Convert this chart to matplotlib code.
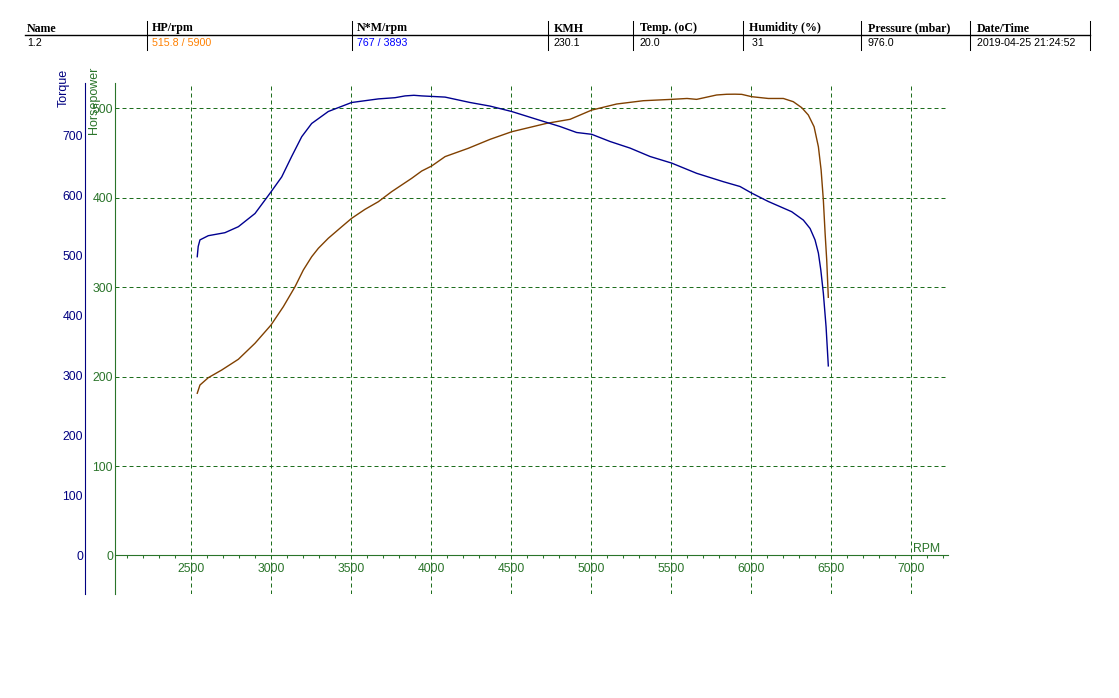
import matplotlib
matplotlib.use('Agg')
import matplotlib.pyplot as plt
from matplotlib.ticker import MultipleLocator
from matplotlib.lines import Line2D

# dyno run readings
torque_rpm = [2539, 2545, 2556, 2608, 2712, 2796, 2900, 3000, 3067, 3129, 3192, 3254,
              3358, 3504, 3671, 3775, 3838, 3893, 3942, 4088, 4244, 4369, 4504, 4660,
              4806, 4910, 5004, 5119, 5244, 5369, 5504, 5660, 5827, 5931, 6004, 6108,
              6254, 6327, 6369, 6400, 6421, 6436, 6452, 6469, 6483]
torque_nm = [498, 515, 526, 533, 538, 548, 570, 606, 631, 665, 698, 720,
             740, 755, 761, 763, 766, 767, 766, 764, 755, 749, 740, 727,
             715, 705, 702, 690, 679, 665, 654, 637, 623, 615, 604, 590,
             573, 559, 545, 526, 504, 476, 437, 381, 316]

hp_rpm = [2539, 2556, 2608, 2692, 2796, 2900, 3000, 3077, 3150, 3202, 3254, 3296,
          3358, 3442, 3504, 3587, 3671, 3754, 3879, 3942, 4004, 4088, 4233, 4369,
          4504, 4723, 4869, 5004, 5160, 5327, 5504, 5600, 5660, 5785, 5848, 5900,
          5942, 6004, 6108, 6202, 6264, 6317, 6358, 6394, 6421, 6438, 6452, 6463,
          6473, 6483]
hp_val = [181.4, 190.6, 198.8, 207.4, 219.4, 237.3, 257.7, 278.2, 300.5, 319.2, 334.0, 343.5,
          354.7, 367.6, 377.0, 387.0, 395.6, 406.8, 421.7, 429.9, 435.5, 446.0, 455.3, 465.3,
          473.8, 483.2, 487.7, 498.0, 504.8, 508.5, 510.0, 511.0, 510.0, 514.9, 515.7, 515.8,
          515.6, 513.0, 511.0, 511.0, 507.4, 500.7, 492.5, 479.4, 457.0, 431.0, 397.4, 360.0,
          330.4, 288.7]

headers = ["Name", "HP/rpm", "N*M/rpm", "KMH", "Temp. (oC)", "Humidity (%)",
           "Pressure (mbar)", "Date/Time"]
values = ["1.2", "515.8 / 5900", "767 / 3893", "230.1", "20.0", " 31", "976.0",
          "2019-04-25 21:24:52"]
value_colors = ["black", "#FF8000", "#0000FF", "black", "black", "black", "black", "black"]
col_x = [27, 152, 357, 554, 640, 749, 868, 977]
sep_x = [147, 352, 548, 633, 743, 861, 970, 1090]

W, H = 1119, 698
GREEN = '#2a742a'
GRID = '#1e6e1e'
NAVY = '#000080'

fig = plt.figure(figsize=(W / 100, H / 100), dpi=100)


def fx(x):
    return x / W


def fy(y):
    return 1 - y / H


# header table
for x, h, v, c in zip(col_x, headers, values, value_colors):
    fig.text(fx(x), fy(28.5), h, family='Liberation Serif', weight='bold', size=8.6,
             ha='left', va='center')
    fig.text(fx(x), fy(43.5), v, family='Liberation Sans', size=7.7, color=c,
             ha='left', va='center')
fig.add_artist(Line2D([fx(25), fx(1090)], [fy(35), fy(35)], color='black', lw=1.0,
                      transform=fig.transFigure))
for x in sep_x:
    fig.add_artist(Line2D([fx(x), fx(x)], [fy(21), fy(50)], color='black', lw=0.75,
                          transform=fig.transFigure))

# plot area
ax = fig.add_axes([fx(115), fy(594), (948 - 115) / W, (594 - 83) / H])
ax.set_xlim(2025, 7231)
ax.set_ylim(-43.05, 528.3)
ax2 = ax.twinx()
ax2.set_ylim(-64.2, 787.5)

ax.plot(hp_rpm, hp_val, color='#804000', lw=1.0)
ax2.plot(torque_rpm, torque_nm, color='#000090', lw=1.0)

for s in ['top', 'right']:
    ax.spines[s].set_visible(False)
ax.spines['left'].set_color(GREEN)
ax.spines['bottom'].set_position(('data', 0))
ax.spines['bottom'].set_color(GREEN)

for s in ['top', 'right', 'bottom']:
    ax2.spines[s].set_visible(False)
ax2.spines['left'].set_visible(True)
ax2.spines['left'].set_position(('outward', 21.6))
ax2.spines['left'].set_color(NAVY)
ax2.yaxis.set_ticks_position('left')

ax.set_yticks(range(0, 600, 100))
ax2.set_yticks(range(0, 800, 100))
ax.xaxis.set_major_locator(MultipleLocator(500))
ax.xaxis.set_minor_locator(MultipleLocator(100))

for t in ax.get_yticklabels() + ax2.get_yticklabels() + ax.get_xticklabels():
    t.set_family('Liberation Sans')
ax.tick_params(axis='y', length=0, pad=1.5, labelcolor=GREEN, labelsize=8.8)
ax2.tick_params(axis='y', length=0, pad=1.5, labelcolor=NAVY, labelsize=8.8)
ax.tick_params(axis='x', which='major', length=0, pad=5.5, labelcolor=GREEN, labelsize=8.8)
ax.tick_params(axis='x', which='minor', length=2.4, width=0.75, color=GREEN, direction='out')

ax.grid(which='major', color=GRID, linestyle=(0, (4, 3)), linewidth=0.72)

fig.text(fx(64), fy(88), "Torque", rotation=90, color=NAVY, family='Liberation Sans',
         size=9, ha='center', va='center')
fig.text(fx(94), fy(100), "Horsepower", rotation=90, color=GREEN, family='Liberation Sans',
         size=9, ha='center', va='center')
fig.text(fx(927), fy(549), "RPM", color=GREEN, family='Liberation Sans', size=8.8,
         ha='center', va='center')

fig.savefig('out.png', dpi=100)
